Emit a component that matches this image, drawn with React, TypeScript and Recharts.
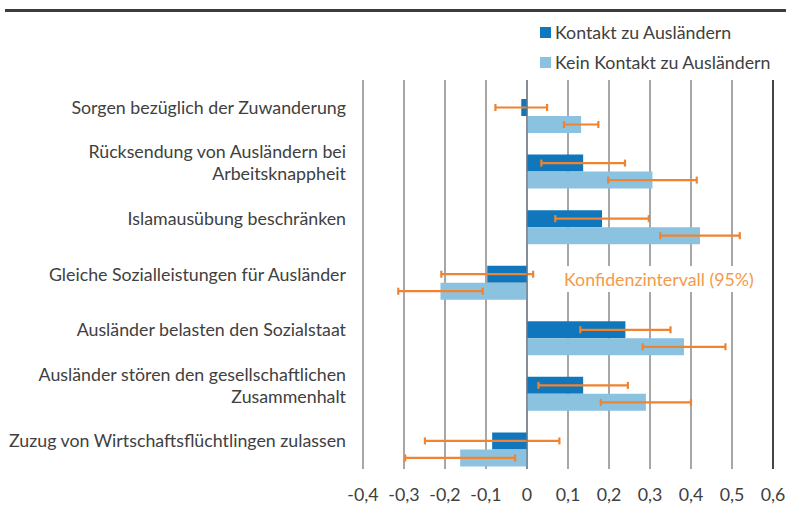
import React from 'react';
import { BarChart, Bar, XAxis, YAxis, CartesianGrid, ErrorBar, ReferenceLine } from 'recharts';

const CATEGORIES = [
  'Sorgen bezüglich der Zuwanderung',
  'Rücksendung von Ausländern bei\nArbeitsknappheit',
  'Islamausübung beschränken',
  'Gleiche Sozialleistungen für Ausländer',
  'Ausländer belasten den Sozialstaat',
  'Ausländer stören den gesellschaftlichen\nZusammenhalt',
  'Zuzug von Wirtschaftsflüchtlingen zulassen',
];
const CONTACT = [-0.014, 0.137, 0.183, -0.097, 0.24, 0.137, -0.085];
const CONTACT_CI = [0.063, 0.102, 0.114, 0.112, 0.11, 0.109, 0.164];
const NO_CONTACT = [0.132, 0.306, 0.422, -0.211, 0.383, 0.29, -0.163];
const NO_CONTACT_CI = [0.042, 0.108, 0.097, 0.103, 0.101, 0.11, 0.134];
const X_TICKS = [-0.4, -0.3, -0.2, -0.1, 0, 0.1, 0.2, 0.3, 0.4, 0.5, 0.6];
const EDGE_TICKS = [0, 1, 2, 3, 4, 5, 6, 7];

const SERIES = [
  { key: 'contact', name: 'Kontakt zu Ausländern', color: '#1177bc' },
  { key: 'noContact', name: 'Kein Kontakt zu Ausländern', color: '#8bc2df' },
];

const data = CATEGORIES.map((label, i) => ({
  label,
  contact: CONTACT[i],
  contactErr: CONTACT_CI[i],
  noContact: NO_CONTACT[i],
  noContactErr: NO_CONTACT_CI[i],
}));

const FONT = 'Lato, sans-serif';
const TEXT = '#404040';
const ORANGE = '#ef8330';

const CategoryTick = (props: any) => {
  const { x, y, payload } = props;
  const lines = String(payload.value).split('\n');
  return (
    <text x={x} y={y} textAnchor="end" fill={TEXT} fontSize={17.8} fontFamily={FONT}>
      {lines.map((line, i) => (
        <tspan key={i} x={x} dy={i === 0 ? 6 - (lines.length - 1) * 11 : 22}>
          {line}
        </tspan>
      ))}
    </text>
  );
};

const fmt = (v: number) => (v === 0 ? '0' : v.toFixed(1).replace('.', ','));

export default function App() {
  return (
    <div style={{ position: 'absolute', left: 0, top: 0, width: 786, height: 505, background: '#fff' }}>
      <div style={{ position: 'absolute', left: 5, top: 9, width: 781, height: 3, background: '#3c3c3c' }} />
      <div style={{ position: 'absolute', left: 540, top: 17, fontFamily: FONT, fontSize: 17.8, color: TEXT }}>
        {SERIES.map((s) => (
          <div key={s.key} style={{ display: 'flex', alignItems: 'center', height: 30, whiteSpace: 'nowrap' }}>
            <span style={{ width: 11, height: 11, background: s.color, marginRight: 4 }} />
            {s.name}
          </div>
        ))}
      </div>
      <BarChart
        width={786}
        height={505}
        data={data}
        layout="vertical"
        margin={{ top: 80, right: 13, bottom: 0, left: 0 }}
        barGap={0}
      >
        <CartesianGrid horizontal={false} stroke="#8a8a8a" strokeWidth={1.5} />
        <YAxis
          yAxisId="edge"
          type="number"
          domain={[0, 7]}
          ticks={EDGE_TICKS}
          width={0}
          tick={false}
          tickSize={5}
          axisLine={{ stroke: TEXT, strokeWidth: 1.5 }}
          tickLine={{ stroke: TEXT, strokeWidth: 1.5 }}
        />
        <YAxis
          yAxisId="cat"
          type="category"
          dataKey="label"
          width={363}
          axisLine={false}
          tickLine={false}
          tickSize={0}
          tickMargin={17}
          tick={<CategoryTick />}
          interval={0}
        />
        <XAxis
          type="number"
          domain={[-0.4, 0.6]}
          ticks={X_TICKS}
          tickFormatter={fmt}
          axisLine={false}
          tickLine={false}
          tickSize={0}
          tickMargin={19}
          height={36}
          tick={{ fill: TEXT, fontSize: 17.8, fontFamily: FONT }}
          interval={0}
        />
        <Bar dataKey="spacer" yAxisId="cat" barSize={17} legendType="none" fill="none" isAnimationActive={false} />
        {SERIES.map((s) => (
          <Bar key={s.key} dataKey={s.key} name={s.name} yAxisId="cat" fill={s.color} barSize={17} isAnimationActive={false}>
            <ErrorBar dataKey={`${s.key}Err`} direction="x" width={3.5} stroke={ORANGE} strokeWidth={2.2} />
          </Bar>
        ))}
        <ReferenceLine x={0} yAxisId="cat" stroke="#6e7a86" strokeOpacity={0.8} strokeWidth={1.5} />
        <ReferenceLine x={0.6} yAxisId="cat" stroke="#222" strokeWidth={1.5} />
      </BarChart>
      <div
        style={{
          position: 'absolute',
          left: 561,
          top: 266,
          padding: '0 3px',
          background: '#fff',
          color: '#f39a4c',
          fontFamily: FONT,
          fontSize: 17.8,
          lineHeight: '26px',
          whiteSpace: 'nowrap',
        }}
      >
        Konfidenzintervall (95%)
      </div>
    </div>
  );
}
